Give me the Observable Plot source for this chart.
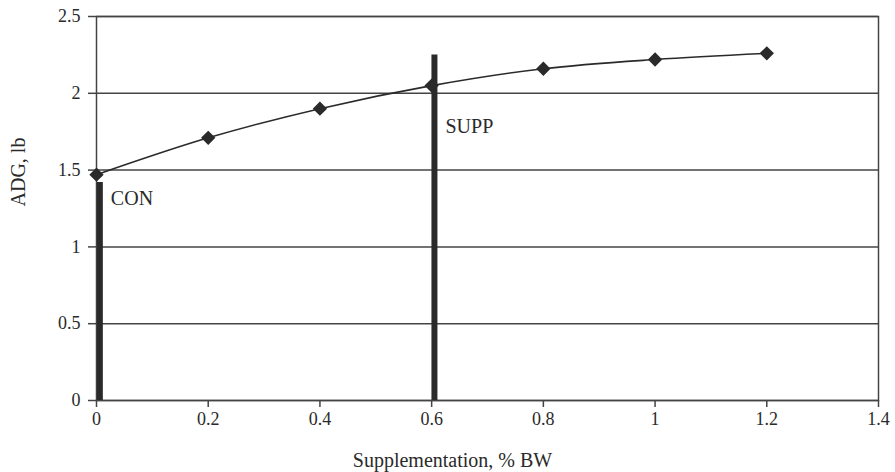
<!DOCTYPE html>
<html>
<head>
<meta charset="utf-8">
<script src="https://cdn.jsdelivr.net/npm/d3@7"></script>
<script src="https://cdn.jsdelivr.net/npm/@observablehq/plot@0.6"></script>
<style>
  html, body { margin: 0; padding: 0; background: #fff; }
</style>
</head>
<body>
<div id="chart"></div>
<script>
const supplementation = [0, 0.2, 0.4, 0.6, 0.8, 1.0, 1.2];
const adg = [1.47, 1.71, 1.90, 2.05, 2.16, 2.22, 2.26];
const barLabels = ["CON", "SUPP"];
const barX = [0.006, 0.605];
const barHeights = [1.42, 2.25];
const barLabelY = [1.315, 1.78];
const xTicks = [0, 0.2, 0.4, 0.6, 0.8, 1, 1.2, 1.4];
const yTicks = [0, 0.5, 1, 1.5, 2, 2.5];
const xTitle = "Supplementation, % BW";
const yTitle = "ADG, lb";

const points = supplementation.map((x, i) => ({x, y: adg[i]}));
const bars = barLabels.map((name, i) => ({name, x: barX[i], y: barHeights[i], ly: barLabelY[i]}));
const ink = "#2a2a2a";

const chart = Plot.plot({
  width: 895,
  height: 472,
  marginLeft: 96,
  marginRight: 17,
  marginTop: 16,
  marginBottom: 72,
  style: { fontFamily: "'Liberation Serif', 'DejaVu Serif', serif", fontSize: "18px", color: ink, background: "#fff" },
  x: { domain: [0, 1.4] },
  y: { domain: [0, 2.5] },
  marks: [
    Plot.gridY(yTicks, { stroke: "#444", strokeOpacity: 1, strokeWidth: 1.5 }),
    Plot.frame({ stroke: "#444", strokeWidth: 1.5 }),
    Plot.axisX(xTicks, { tickSize: 7, tickPadding: 5, tickFormat: d => String(d), stroke: "#444", strokeWidth: 1.5, fontSize: 18, label: null }),
    Plot.axisY(yTicks, { tickSize: 8, tickPadding: 8, tickFormat: d => String(d), stroke: "#444", strokeWidth: 1.5, fontSize: 18, label: null }),
    Plot.text([xTitle], { text: d => d, frameAnchor: "bottom", dx: -35, dy: 66, fontSize: 20, fill: ink }),
    Plot.text([yTitle], { text: d => d, frameAnchor: "left", rotate: -90, dx: -78, dy: -2, fontSize: 20, fill: ink }),
    Plot.ruleX(bars, { x: "x", y1: 0, y2: "y", stroke: ink, strokeWidth: 6 }),
    Plot.line(points, { x: "x", y: "y", curve: "catmull-rom", stroke: ink, strokeWidth: 1.6 }),
    Plot.dot(points, { x: "x", y: "y", symbol: "diamond2", r: 5.5, fill: ink, stroke: ink }),
    Plot.text(bars, { x: "x", y: "ly", text: "name", textAnchor: "start", dx: 11, fill: ink, fontSize: 20 })
  ]
});
document.getElementById("chart").appendChild(chart);
</script>
</body>
</html>
